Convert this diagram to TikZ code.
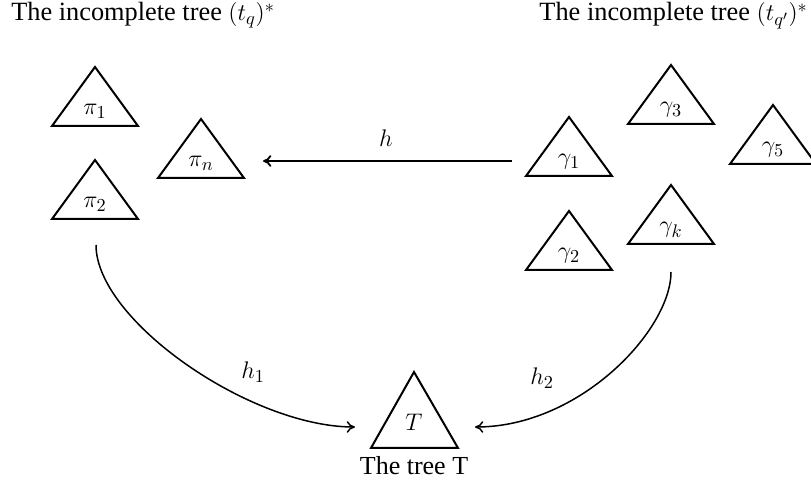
\documentclass[tikz,border=0pt]{standalone}
\usepackage[no-math]{fontspec}
\setmainfont{Liberation Serif}
\usetikzlibrary{arrows.meta}
\begin{document}
\begin{tikzpicture}[x=0.6pt,y=-0.6pt,
  tri/.style={draw,line width=1.2pt},
  lab/.style={anchor=base,inner sep=0pt},
  conn/.style={-{Computer Modern Rightarrow[length=5pt,width=7pt]},line width=0.9pt},
  txt/.style={inner sep=0pt,font=\fontsize{15.6}{18}\selectfont},
  ttl/.style={inner sep=0pt,font=\fontsize{15.8}{18}\selectfont}]
\useasboundingbox (0,0) rectangle (811,486);
\newcommand{\mytri}[4]{%
  \draw[tri] (#2-43,#3+59) -- (#2,#3) -- (#2+43,#3+59) -- cycle;
  \node[lab,txt] (#1) at (#2,#3+48) {$#4$};}
% titles
\node[ttl,anchor=base west] (tl) at (11,21) {The incomplete tree $(t_q)^*$};
\node[ttl,anchor=base east] (tr) at (808,21) {The incomplete tree $(t_{q'})^*$};
% left triangles
\mytri{p1}{95}{67}{\pi_1}
\mytri{p2}{95}{160}{\pi_2}
\mytri{pn}{201}{119}{\pi_n}
% right triangles
\mytri{g3}{671}{65}{\gamma_3}
\mytri{g5}{773}{105}{\gamma_5}
\mytri{g1}{569}{117}{\gamma_1}
\mytri{g2}{569}{211}{\gamma_2}
\mytri{gk}{671}{185}{\gamma_k}
% tree T
\draw[tri] (371,448) -- (414,372) -- (458,448) -- cycle;
\node[lab,txt] (T) at (414,431) {$T$};
\node[lab,txt] (tt) at (414,475) {The tree T};
% connectors
\coordinate (hs) at (512,161);
\coordinate (he) at (263,161);
\draw[conn,line width=1.1pt] (hs) -- (he);
\node[txt] (hl) at (386,138) {$h$};
\coordinate (l1s) at (96,245);
\coordinate (l1e) at (355,427);
\draw[conn] (l1s) .. controls (96,320) and (250,427) .. (l1e);
\node[txt] (h1l) at (253,372) {$h_1$};
\coordinate (l2s) at (671,272);
\coordinate (l2e) at (475,427);
\draw[conn] (l2s) .. controls (671,330) and (580,427) .. (l2e);
\node[txt] (h2l) at (542,378) {$h_2$};
\end{tikzpicture}
\end{document}
